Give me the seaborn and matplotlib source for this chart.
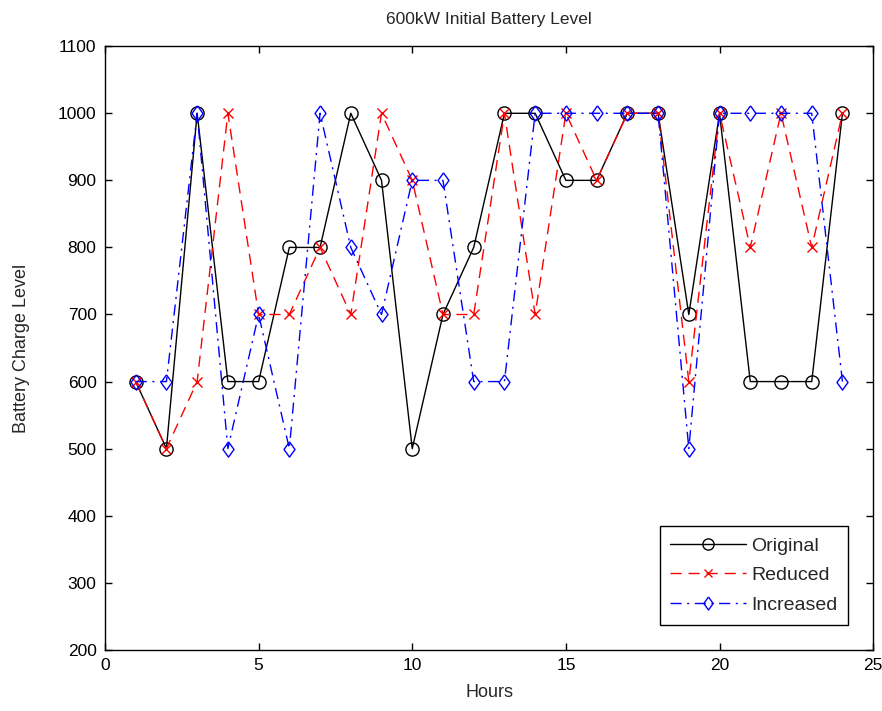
import matplotlib
matplotlib.use("Agg")
import matplotlib.pyplot as plt
import seaborn as sns
import pandas as pd

hours = list(range(1, 25))
original = [600, 500, 1000, 600, 600, 800, 800, 1000, 900, 500, 700, 800,
            1000, 1000, 900, 900, 1000, 1000, 700, 1000, 600, 600, 600, 1000]
reduced = [600, 500, 600, 1000, 700, 700, 800, 700, 1000, 900, 700, 700,
           1000, 700, 1000, 900, 1000, 1000, 600, 1000, 800, 1000, 800, 1000]
increased = [600, 600, 1000, 500, 700, 500, 1000, 800, 700, 900, 900, 600,
             600, 1000, 1000, 1000, 1000, 1000, 500, 1000, 1000, 1000, 1000, 600]

x_ticks = [0, 5, 10, 15, 20, 25]
y_ticks = list(range(200, 1101, 100))

sns.set_style("ticks")
plt.rcParams["font.family"] = ["Liberation Sans", "DejaVu Sans"]
plt.rcParams["font.size"] = 11

# diamond marker a little wider than matplotlib's thin diamond
diamond = [(0, 1), (0.72, 0), (0, -1), (-0.72, 0), (0, 1)]

fig = plt.figure(figsize=(8.82, 7.11), dpi=100)
ax = fig.add_axes([0.119, 0.086, 0.871, 0.849])

df = pd.DataFrame({"Hours": hours, "Original": original,
                   "Reduced": reduced, "Increased": increased})

sns.lineplot(data=df, x="Hours", y="Original", ax=ax, color="black",
             linewidth=1.0, marker="o", markersize=9.5, markerfacecolor="none",
             markeredgecolor="black", markeredgewidth=1.0, label="Original")
sns.lineplot(data=df, x="Hours", y="Reduced", ax=ax, color="red",
             linewidth=1.0, linestyle=(0, (8, 5)), marker="x", markersize=6.5,
             markeredgecolor="red", markeredgewidth=1.0, label="Reduced")
sns.lineplot(data=df, x="Hours", y="Increased", ax=ax, color="blue",
             linewidth=1.0, linestyle=(0, (8, 4, 1.5, 4)), marker=diamond,
             markersize=11, markerfacecolor="none", markeredgecolor="blue",
             markeredgewidth=1.0, label="Increased")

ax.set_xlim(0, 25)
ax.set_ylim(200, 1100)
ax.set_xticks(x_ticks)
ax.set_yticks(y_ticks)
ax.tick_params(direction="in", top=True, right=True, length=5, width=1,
               labelsize=12.5, colors="black", pad=6)
for s in ax.spines.values():
    s.set_visible(True)
    s.set_color("black")
    s.set_linewidth(1.0)

ax.set_xlabel("Hours", fontsize=13, labelpad=8)
ax.set_ylabel("Battery Charge Level", fontsize=13, labelpad=20)
ax.set_title("600kW Initial Battery Level", fontsize=12.5, pad=16)

leg = ax.legend(loc="lower right", fontsize=14, frameon=True, fancybox=False,
                edgecolor="black", framealpha=1, borderaxespad=1.3,
                borderpad=0.55, handlelength=3.9, labelspacing=0.62,
                markerscale=0.85, handletextpad=0.25)
leg.get_frame().set_linewidth(1.0)

fig.savefig("out.png", dpi=100)
